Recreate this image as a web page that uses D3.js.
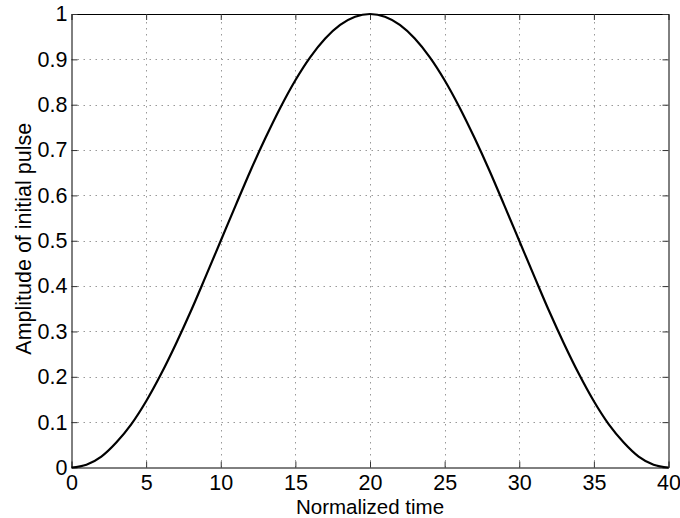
<!DOCTYPE html>
<html>
<head>
<meta charset="utf-8">
<script src="https://cdn.jsdelivr.net/npm/d3@7"></script>
<style>
  html, body { margin: 0; padding: 0; background: #fff; }
  svg { display: block; font-family: "Liberation Sans", Arial, Helvetica, sans-serif; }
</style>
</head>
<body>
<svg id="chart" width="680" height="518"></svg>
<script>
// Data
const time = [0,1,2,3,4,5,6,7,8,9,10,11,12,13,14,15,16,17,18,19,20,
              21,22,23,24,25,26,27,28,29,30,31,32,33,34,35,36,37,38,39,40];
const amplitude = [0.000,0.006,0.024,0.055,0.095,0.146,0.206,0.273,0.345,0.422,0.500,
                   0.578,0.655,0.727,0.794,0.854,0.905,0.946,0.976,0.994,1.000,
                   0.994,0.976,0.946,0.905,0.854,0.794,0.727,0.655,0.578,0.500,
                   0.422,0.345,0.273,0.206,0.146,0.095,0.055,0.024,0.006,0.000];
const xTicks = [0,5,10,15,20,25,30,35,40];
const yTicks = [0,0.1,0.2,0.3,0.4,0.5,0.6,0.7,0.8,0.9,1];
const xLabel = "Normalized time";
const yLabel = "Amplitude of initial pulse";

const svg = d3.select("#chart");
const L = 71.5, R = 668.5, T = 14, B = 467.5;
const x = d3.scaleLinear().domain([0, 40]).range([L, R]);
const y = d3.scaleLinear().domain([0, 1]).range([B, T]);
const fs = 21.5;

svg.append("rect").attr("width", 680).attr("height", 518).attr("fill", "#fff");

// grid
const grid = svg.append("g").attr("stroke", "#999").attr("stroke-width", 1)
  .attr("stroke-dasharray", "1.5,4.5");
grid.selectAll("line.gx").data(xTicks.slice(1, -1)).enter().append("line")
  .attr("x1", d => Math.round(x(d)) + 0.5).attr("x2", d => Math.round(x(d)) + 0.5)
  .attr("y1", B).attr("y2", T);
grid.selectAll("line.gy").data(yTicks.slice(1, -1)).enter().append("line")
  .attr("y1", d => Math.round(y(d)) + 0.5).attr("y2", d => Math.round(y(d)) + 0.5)
  .attr("x1", L).attr("x2", R);

// axes with inward ticks
const tickLen = 6;
const xAxisB = d3.axisBottom(x).tickValues(xTicks).tickSizeInner(-tickLen).tickSizeOuter(0).tickPadding(7).tickFormat(d3.format("d"));
const xAxisT = d3.axisTop(x).tickValues(xTicks).tickSizeInner(-tickLen).tickSizeOuter(0).tickFormat("");
const yAxisL = d3.axisLeft(y).tickValues(yTicks).tickSizeInner(-tickLen).tickSizeOuter(0).tickPadding(4).tickFormat(d => d === 0 || d === 1 ? d3.format("d")(d) : d3.format(".1f")(d));
const yAxisR = d3.axisRight(y).tickValues(yTicks).tickSizeInner(-tickLen).tickSizeOuter(0).tickFormat("");

function style(g) {
  g.select(".domain").attr("stroke", "#000").attr("stroke-width", 1);
  g.selectAll(".tick line").attr("stroke", "#333").attr("stroke-width", 1);
  g.selectAll(".tick text").attr("fill", "#000").style("font-size", fs + "px")
    .style("font-family", '"Liberation Sans", Arial, sans-serif');
}
svg.append("g").attr("transform", `translate(0,${B})`).call(xAxisB).call(style);
svg.append("g").attr("transform", `translate(0,${T})`).call(xAxisT).call(style);
svg.append("g").attr("transform", `translate(${L},0)`).call(yAxisL).call(style);
svg.append("g").attr("transform", `translate(${R},0)`).call(yAxisR).call(style);

// curve
const line = d3.line().x((d, i) => x(time[i])).y(d => y(d)).curve(d3.curveMonotoneX);
svg.append("path").datum(amplitude).attr("d", line)
  .attr("fill", "none").attr("stroke", "#000").attr("stroke-width", 2.2)
  .attr("stroke-linejoin", "round");

// labels
svg.append("text").attr("x", (L + R) / 2).attr("y", 513.5).attr("text-anchor", "middle")
  .style("font-size", "20.5px").attr("fill", "#000").text(xLabel);
svg.append("text").attr("transform", `translate(31,${(T + B) / 2 - 2}) rotate(-90)`)
  .attr("text-anchor", "middle").style("font-size", fs + "px").attr("fill", "#000").text(yLabel);
</script>
</body>
</html>
